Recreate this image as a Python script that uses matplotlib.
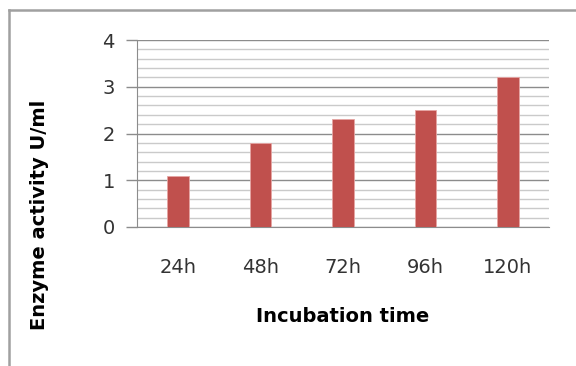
import matplotlib
matplotlib.use("Agg")
import matplotlib.pyplot as plt
import numpy as np

# data
times = ['24h', '48h', '72h', '96h', '120h']
activity = [1.1, 1.8, 2.3, 2.5, 3.2]

plt.rcParams['font.family'] = ['DejaVu Sans']

W, H = 576, 366
fig = plt.figure(figsize=(W/100, H/100), dpi=100)
ax = fig.add_axes([137/W, 1-227/H, 412/W, 187/H])

x = np.arange(len(times))
ax.bar(x, activity, width=0.26, color='#C0504D', edgecolor='#E6A5A3', linewidth=0.6, zorder=3)

ax.set_xlim(-0.5, len(times)-0.5)
ax.set_ylim(0, 4)
ax.set_yticks(np.arange(0, 5, 1))
ax.set_yticks(np.arange(0, 4.01, 0.2), minor=True)
ax.grid(axis='y', which='major', color='#8C8C8C', linewidth=1.0, zorder=0)
ax.grid(axis='y', which='minor', color='#CACACA', linewidth=1.0, zorder=0)

ax.set_xticks(x)
ax.set_xticklabels(times)
ax.tick_params(axis='x', length=0, pad=22, labelsize=14, colors='#333333')
ax.tick_params(axis='y', which='major', length=8, width=1, color='#8C8C8C',
               labelsize=14, pad=8, labelcolor='#333333')
ax.tick_params(axis='y', which='minor', length=0)

for s in ['top', 'right']:
    ax.spines[s].set_visible(False)
ax.spines['left'].set_color('#8C8C8C')
ax.spines['bottom'].set_color('#8C8C8C')

ax.set_xlabel('Incubation time', fontsize=14, fontweight='bold', labelpad=22)
fig.text(40/W, 1-215/H, 'Enzyme activity U/ml', rotation=90, ha='center', va='center',
         fontsize=14, fontweight='bold')

# chart area border (top and left edges visible in the crop)
fig.add_artist(plt.Line2D([9/W, 9/W], [0, 1-10/H], color='#A0A0A0', linewidth=1.8))
fig.add_artist(plt.Line2D([9/W, 1], [1-10/H, 1-10/H], color='#A0A0A0', linewidth=1.8))

fig.savefig('out.png', dpi=100)
